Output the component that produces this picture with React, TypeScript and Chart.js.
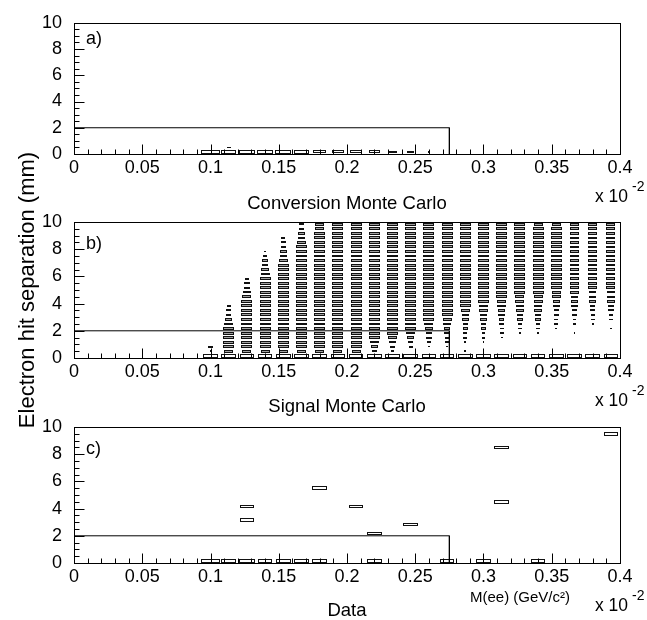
import React, { useEffect, useRef } from "react";
import { Chart, registerables } from "chart.js";

Chart.register(...registerables);

const FONT = "'Liberation Sans', Arial, Helvetica, sans-serif";

// ---- axes (x in units of 10^-2 GeV/c^2, y in mm) ----
const xRange = [0, 0.4];
const yRange = [0, 10];
const nXBins = 30;
const nYBins = 30;

const xTickValues = [0, 0.05, 0.1, 0.15, 0.2, 0.25, 0.3, 0.35, 0.4];
const xTickLabels = ["0", "0.05", "0.1", "0.15", "0.2", "0.25", "0.3", "0.35", "0.4"];
const yTickValues = [0, 2, 4, 6, 8, 10];
const yTickLabels = ["0", "2", "4", "6", "8", "10"];

// ---- selection cut drawn in every panel ----
const cutX = [0, 0.275, 0.275];
const cutY = [2, 2, 0];

// ---- a) Conversion Monte Carlo: occupied cells (x bin, y bin, box size in tenths of a cell) ----
const convXBin = [7, 8, 9, 10, 11, 12, 13, 14, 15, 16, 17, 18, 19, 8];
const convYBin = [0, 0, 0, 0, 0, 0, 0, 0, 0, 0, 0, 0, 0, 1];
const convSize = [10, 8, 9, 9, 9, 8, 7, 7, 7, 6, 5, 4, 1, 2];

// ---- b) Signal Monte Carlo: one string per x bin, one digit per y bin (bottom -> top) = box size in tenths ----
const signalGrid = [
  "00000 00000 00000 00000 00000 00000",
  "00000 00000 00000 00000 00000 00000",
  "00000 00000 00000 00000 00000 00000",
  "00000 00000 00000 00000 00000 00000",
  "00000 00000 00000 00000 00000 00000",
  "00000 00000 00000 00000 00000 00000",
  "00000 00000 00000 00000 00000 00000",
  "81300 00000 00000 00000 00000 00000",
  "85666 66543 32000 00000 00000 00000",
  "85666 66666 66654 33200 00000 00000",
  "85666 66666 66666 66654 33210 00000",
  "85666 66666 66666 66666 65443 32000",
  "85666 66666 66666 66666 66666 54433",
  "85666 66666 66666 66666 66666 66655",
  "85666 66666 66666 66666 66666 66666",
  "85666 66666 66666 66666 66666 66666",
  "83456 66666 66666 66666 66666 66666",
  "82345 66666 66666 66666 66666 66666",
  "80234 56666 66666 66666 66666 66666",
  "80123 34566 66666 66666 66666 66666",
  "80122 33456 66666 66666 66666 66666",
  "81012 23344 56666 66666 66666 66666",
  "80012 23344 55666 66666 66666 66666",
  "80001 22334 45566 66666 66666 66666",
  "80000 12233 44556 66666 66666 66666",
  "80000 12233 44556 66666 66666 66665",
  "80000 01223 34455 66666 66666 66665",
  "80000 10223 34445 55555 55555 55555",
  "80000 00122 33444 55555 55555 55555",
  "80000 01022 33444 55555 55555 55555",
];

// ---- c) Data: occupied cells ----
const dataXBin = [7, 8, 9, 10, 11, 12, 13, 16, 20, 22, 25, 9, 9, 13, 15, 16, 18, 23, 23, 29];
const dataYBin = [0, 0, 0, 0, 0, 0, 0, 0, 0, 0, 0, 9, 12, 16, 12, 6, 8, 13, 25, 28];
const dataSize = [10, 8, 9, 8, 8, 8, 8, 8, 8, 8, 8, 8, 8, 8, 8, 8, 8, 8, 8, 8];

const panelTitles = ["Conversion Monte Carlo", "Signal Monte Carlo", "Data"];
const panelLetters = ["a)", "b)", "c)"];
const yTitle = "Electron hit separation (mm)";
const xUnit = "M(ee) (GeV/c\u00B2)";

// ---- layout (pixels) ----
const W = 647;
const H = 620;
const plotLeft = 74;
const plotRight = 620;
const panelTop = [17, 222, 427];
const panelBottom = [154, 358, 563];
const titleCenter = [204, 407, 611];

type Cell = { xb: number; yb: number; s: number; fill: string };

function sparseCells(xb: number[], yb: number[], size: number[]): Cell[] {
  return xb.map((x, k) => ({ xb: x, yb: yb[k], s: size[k] / 10, fill: "#ffffff" }));
}

function gridCells(grid: string[]): Cell[] {
  const out: Cell[] = [];
  grid.forEach((col, xb) => {
    const digits = col.replace(/ /g, "");
    for (let yb = 0; yb < digits.length; yb++) {
      const d = Number(digits[yb]);
      if (d > 0) out.push({ xb, yb, s: d / 10, fill: yb === 0 ? "#ffffff" : "#a0a0a0" });
    }
  });
  return out;
}

function makePlugin(cells: Cell[]) {
  return {
    id: "boxHist",
    beforeDatasetsDraw(chart: any) {
      const ctx: CanvasRenderingContext2D = chart.ctx;
      const xs = chart.scales.x;
      const ys = chart.scales.y;
      const bw = (xRange[1] - xRange[0]) / nXBins;
      const bh = (yRange[1] - yRange[0]) / nYBins;
      const bwPx = Math.abs(xs.getPixelForValue(xRange[0] + bw) - xs.getPixelForValue(xRange[0]));
      const bhPx = Math.abs(ys.getPixelForValue(yRange[0] + bh) - ys.getPixelForValue(yRange[0]));
      ctx.save();
      ctx.lineWidth = 1;
      ctx.strokeStyle = "#111";
      for (const c of cells) {
        const cx = xs.getPixelForValue(xRange[0] + (c.xb + 0.5) * bw);
        const cy = ys.getPixelForValue(yRange[0] + (c.yb + 0.5) * bh);
        const w = bwPx * c.s;
        const h = bhPx * (0.3 + 0.6 * c.s);
        const l = Math.round(cx - w / 2);
        const r = Math.round(cx + w / 2);
        const t = Math.round(cy - h / 2);
        const b = Math.round(cy + h / 2);
        if (r - l <= 2 || b - t <= 2) {
          ctx.fillStyle = "#111";
          ctx.fillRect(l, t, Math.max(1, r - l), Math.max(1, b - t));
          continue;
        }
        ctx.fillStyle = c.fill;
        ctx.fillRect(l, t, r - l, b - t);
        ctx.strokeRect(l + 0.5, t + 0.5, r - l - 1, b - t - 1);
      }
      ctx.restore();
    },
    afterDraw(chart: any) {
      const ctx: CanvasRenderingContext2D = chart.ctx;
      const { left, right, top, bottom } = chart.chartArea;
      const xs = chart.scales.x;
      const ys = chart.scales.y;
      ctx.save();
      ctx.strokeStyle = "#000";
      ctx.lineWidth = 1;
      const L = Math.round(left), R = Math.round(right), T = Math.round(top), B = Math.round(bottom);
      ctx.strokeRect(L + 0.5, T + 0.5, R - L, B - T);
      ctx.beginPath();
      // inner ticks on x: major every 0.05, minor every 0.01
      for (let i = 0; i <= 40; i++) {
        const v = xRange[0] + i * 0.01;
        const px = Math.round(xs.getPixelForValue(v)) + 0.5;
        const len = i % 5 === 0 ? 10 : 5;
        ctx.moveTo(px, B + 0.5);
        ctx.lineTo(px, B + 0.5 - len);
      }
      // inner ticks on y: major every 2, minor every 0.5
      for (let i = 0; i <= 20; i++) {
        const v = yRange[0] + i * 0.5;
        const py = Math.round(ys.getPixelForValue(v)) + 0.5;
        const len = i % 4 === 0 ? 10 : 5;
        ctx.moveTo(L + 0.5, py);
        ctx.lineTo(L + 0.5 + len, py);
      }
      ctx.stroke();
      ctx.restore();
    },
  };
}

function makeConfig(i: number, cells: Cell[]): any {
  const titleSize = 18.5;
  const titleLH = 0.9;
  const scaleBottom = titleCenter[i] + (titleSize * titleLH) / 2;
  const xAxisH = scaleBottom - panelBottom[i];
  const padB = H - scaleBottom;
  const yTitleSize = 22;
  return {
    type: "scatter",
    data: {
      datasets: [
        {
          data: cutX.map((x, k) => ({ x, y: cutY[k] })),
          showLine: true,
          borderColor: "#000",
          borderWidth: 1,
          pointRadius: 0,
          pointHoverRadius: 0,
          fill: false,
          tension: 0,
        },
      ],
    },
    options: {
      animation: false,
      responsive: false,
      devicePixelRatio: 1,
      events: [],
      layout: { padding: { top: panelTop[i], bottom: padB, left: 0, right: W - plotRight } },
      plugins: { legend: { display: false }, tooltip: { enabled: false }, title: { display: false } },
      scales: {
        x: {
          type: "linear",
          position: "bottom",
          min: xRange[0],
          max: xRange[1],
          grid: { display: false, drawTicks: false },
          border: { display: false },
          afterBuildTicks: (s: any) => {
            s.ticks = xTickValues.map((v) => ({ value: v }));
          },
          ticks: {
            autoSkip: false,
            maxRotation: 0,
            minRotation: 0,
            padding: 3,
            color: "#000",
            font: { family: FONT, size: 18 },
            callback: (_v: any, k: number) => xTickLabels[k],
          },
          title: {
            display: true,
            text: panelTitles[i],
            color: "#000",
            font: { family: FONT, size: titleSize, lineHeight: titleLH },
            padding: 0,
          },
          afterFit: (s: any) => {
            s.height = xAxisH;
          },
        },
        y: {
          type: "linear",
          min: yRange[0],
          max: yRange[1],
          grid: { display: false, drawTicks: false },
          border: { display: false },
          afterBuildTicks: (s: any) => {
            s.ticks = yTickValues.map((v) => ({ value: v }));
          },
          ticks: {
            padding: 12,
            color: "#000",
            font: { family: FONT, size: 18 },
            callback: (_v: any, k: number) => yTickLabels[k],
          },
          title: {
            display: i === 1,
            text: yTitle,
            color: "#000",
            font: { family: FONT, size: yTitleSize, lineHeight: 1 },
            padding: { top: 28 - yTitleSize / 2, bottom: 0 },
          },
          afterFit: (s: any) => {
            s.width = plotLeft;
          },
        },
      },
    },
    plugins: [makePlugin(cells)],
  };
}

function Label(props: { x: number; baseline: number; size: number; text: string }) {
  const { x, baseline, size, text } = props;
  return (
    <div
      style={{
        position: "absolute",
        left: x,
        top: baseline - 0.8465 * size,
        fontSize: size,
        lineHeight: `${size}px`,
        fontFamily: FONT,
        whiteSpace: "nowrap",
        color: "#000",
      }}
    >
      {text}
    </div>
  );
}

export default function App() {
  const r0 = useRef<HTMLCanvasElement>(null);
  const r1 = useRef<HTMLCanvasElement>(null);
  const r2 = useRef<HTMLCanvasElement>(null);

  useEffect(() => {
    const cellSets = [
      sparseCells(convXBin, convYBin, convSize),
      gridCells(signalGrid),
      sparseCells(dataXBin, dataYBin, dataSize),
    ];
    const canvases = [r0.current, r1.current, r2.current];
    const charts = canvases.map((cv, i) => new Chart(cv as HTMLCanvasElement, makeConfig(i, cellSets[i])));
    return () => charts.forEach((c) => c.destroy());
  }, []);

  const cvStyle: React.CSSProperties = { position: "absolute", left: 0, top: 0, width: W, height: H };

  return (
    <div style={{ position: "absolute", left: 0, top: 0, width: W, height: H, background: "#fff", overflow: "hidden" }}>
      <canvas ref={r0} width={W} height={H} style={cvStyle} />
      <canvas ref={r1} width={W} height={H} style={cvStyle} />
      <canvas ref={r2} width={W} height={H} style={cvStyle} />
      {panelLetters.map((t, i) => (
        <Label key={"l" + i} x={86} baseline={panelTop[i] + 27} size={18} text={t} />
      ))}
      {panelBottom.map((b, i) => (
        <React.Fragment key={"m" + i}>
          <Label x={595} baseline={b + 48.5} size={17.5} text="x 10" />
          <Label x={632} baseline={b + 37} size={14} text="-2" />
        </React.Fragment>
      ))}
      <Label x={470} baseline={602} size={15} text={xUnit} />
    </div>
  );
}
